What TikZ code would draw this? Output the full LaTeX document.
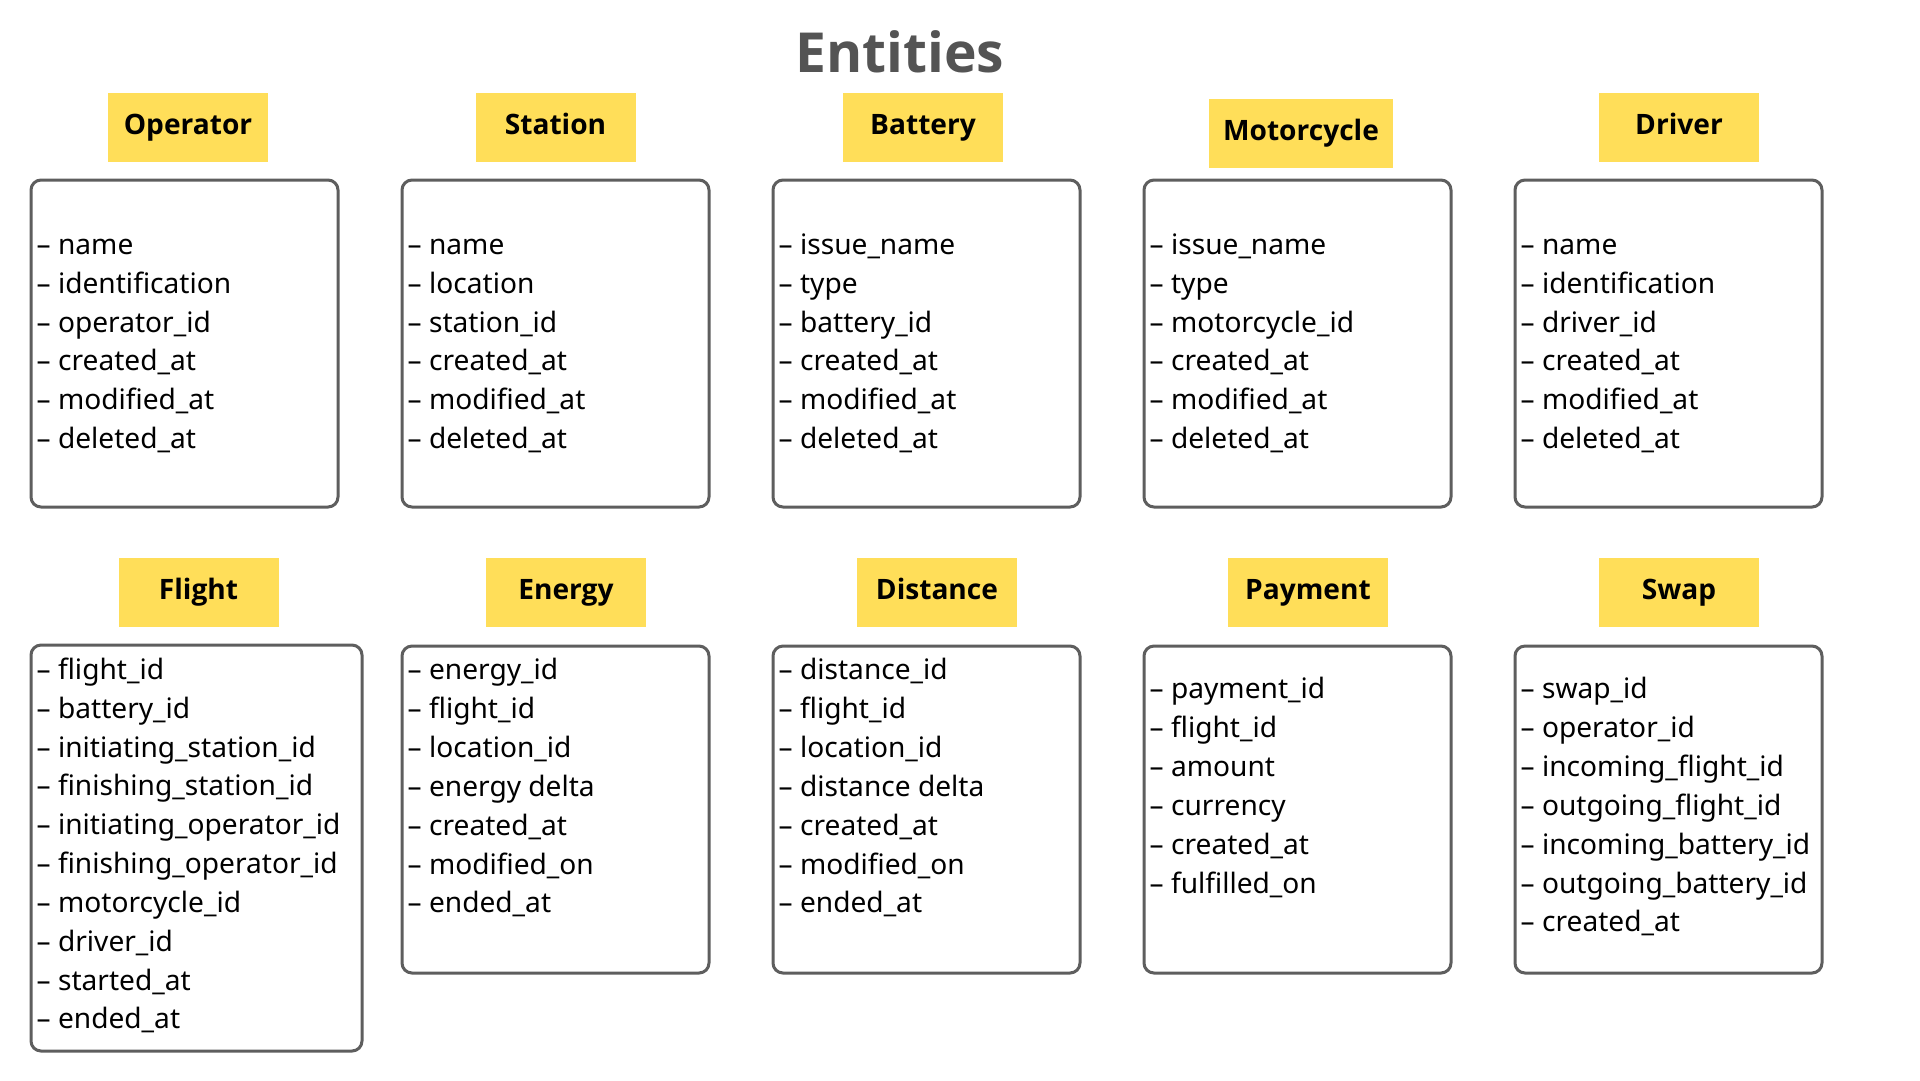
\documentclass[tikz,border=0pt]{standalone}
\usepackage{fontspec}
\setmainfont{Noto Sans}[BoldFont={Open Sans Bold}]
\definecolor{tagyellow}{HTML}{FFDE59}
\definecolor{framegray}{HTML}{5E5E5E}
\definecolor{titlegray}{HTML}{545454}

\begin{document}
\begin{tikzpicture}[x=0.1mm, y=-0.1mm,
	tag/.style={rectangle, fill=tagyellow, minimum width=16mm, minimum height=6.9mm, inner xsep=1.4mm, text height=5.8pt, text depth=1.8pt, font=\fontsize{8}{10}\selectfont\bfseries},
	table/.style={rectangle, draw=framegray, line width=0.3mm, rounded corners=1mm},
	fields/.style={anchor=north west, inner sep=0pt, align=left, font=\fontsize{8}{11.05}\selectfont}]
\fill[white] (0,0) rectangle (1920,1080);

\node[font=\fontsize{15.7}{19}\selectfont\bfseries, text=titlegray, anchor=base] (title) at (900,72) {Entities};

\foreach \x \y \t in {
	188/127/Operator,555.5/127/Station,923/127/Battery%
	,1301/133.5/Motorcycle,1679/127/Driver%
	,198.5/592/Flight,566/592/Energy,937/592/Distance%
	,1308/592/Payment,1679/592/Swap%
}{
	\node[tag] (\t) at (\x,\y) {\t};
}

\foreach \x \y \w \h \t in {
	184.5/343.5/30.7/32.7/Operator,555.5/343.5/30.7/32.7/Station%
	,926.5/343.5/30.7/32.7/Battery,1297.5/343.5/30.7/32.7/Motorcycle%
	,1668.5/343.5/30.7/32.7/Driver%
	,196.5/848/33.1/40.6/Flight,555.5/809.5/30.7/32.7/Energy%
	,926.5/809.5/30.7/32.7/Distance,1297.5/809.5/30.7/32.7/Payment%
	,1668.5/809.5/30.7/32.7/Swap%
}{
	\node[table, minimum width=\w mm, minimum height=\h mm] (\t box) at (\x,\y) {};
}

\node[fields] (Operator list) at (36,226.5) {\strut– name\\– identification\\– operator\_id\\– created\_at\\– modified\_at\\– deleted\_at};
\node[fields] (Station list) at (407,226.5) {\strut– name\\– location\\– station\_id\\– created\_at\\– modified\_at\\– deleted\_at};
\node[fields] (Battery list) at (778,226.5) {\strut– issue\_name\\– type\\– battery\_id\\– created\_at\\– modified\_at\\– deleted\_at};
\node[fields] (Motorcycle list) at (1149,226.5) {\strut– issue\_name\\– type\\– motorcycle\_id\\– created\_at\\– modified\_at\\– deleted\_at};
\node[fields] (Driver list) at (1520,226.5) {\strut– name\\– identification\\– driver\_id\\– created\_at\\– modified\_at\\– deleted\_at};

\node[fields] (Flight list) at (36,651.5) {\strut– flight\_id\\– battery\_id\\– initiating\_station\_id\\– finishing\_station\_id\\– initiating\_operator\_id\\– finishing\_operator\_id\\– motorcycle\_id\\– driver\_id\\– started\_at\\– ended\_at};
\node[fields] (Energy list) at (407,652) {\strut– energy\_id\\– flight\_id\\– location\_id\\– energy delta\\– created\_at\\– modified\_on\\– ended\_at};
\node[fields] (Distance list) at (778,652) {\strut– distance\_id\\– flight\_id\\– location\_id\\– distance delta\\– created\_at\\– modified\_on\\– ended\_at};
\node[fields] (Payment list) at (1149,671) {\strut– payment\_id\\– flight\_id\\– amount\\– currency\\– created\_at\\– fulfilled\_on};
\node[fields] (Swap list) at (1520,671) {\strut– swap\_id\\– operator\_id\\– incoming\_flight\_id\\– outgoing\_flight\_id\\– incoming\_battery\_id\\– outgoing\_battery\_id\\– created\_at};
\end{tikzpicture}
\end{document}
